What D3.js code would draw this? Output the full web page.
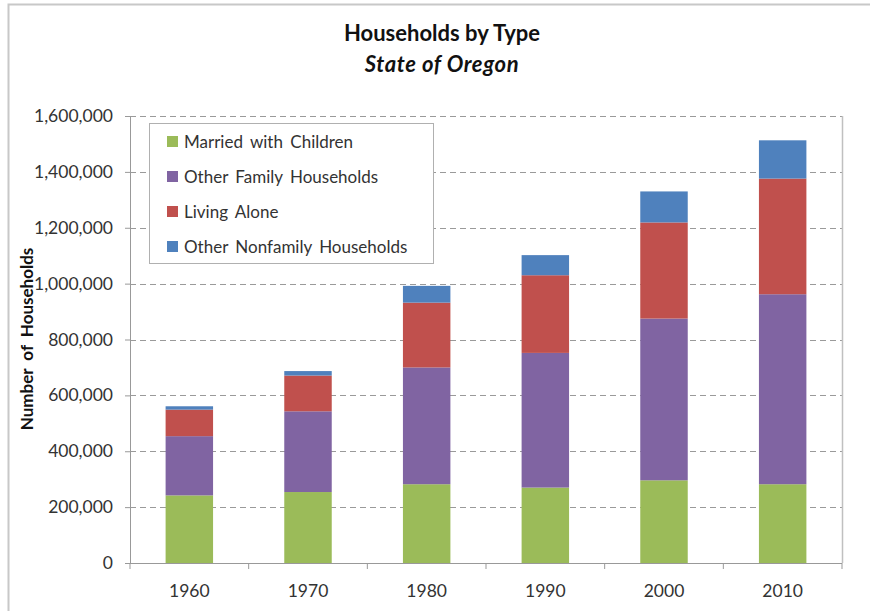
<!DOCTYPE html>
<html>
<head>
<meta charset="utf-8">
<script src="https://cdn.jsdelivr.net/npm/d3@7"></script>
<style>
  body { margin: 0; background: #fff; }
  svg { font-family: Lato, "Open Sans", sans-serif; }
</style>
</head>
<body>
<svg id="chart" width="870" height="611"></svg>
<script>
// data (households)
var years = ["1960", "1970", "1980", "1990", "2000", "2010"];
var seriesNames = ["Married with Children", "Other Family Households", "Living Alone", "Other Nonfamily Households"];
var seriesColors = ["#9bbb59", "#8064a2", "#c0504d", "#4f81bd"];
var marriedWithChildren = [242000, 254000, 282000, 270000, 296000, 282000];
var otherFamily = [212000, 289000, 418000, 482000, 579000, 680000];
var livingAlone = [95000, 128000, 232000, 278000, 344000, 414000];
var otherNonfamily = [12000, 16000, 60000, 72000, 111000, 137000];
var yTicks = [0, 200000, 400000, 600000, 800000, 1000000, 1200000, 1400000, 1600000];

var svg = d3.select("#chart");
var margin = ({top: 116, right: 28, bottom: 48, left: 130});
var width = 870, height = 611;

// outer chart frame (cropped on right and bottom)
svg.append("rect")
    .attr("x", 8.5).attr("y", 4.5)
    .attr("width", 900).attr("height", 700)
    .attr("fill", "none").attr("stroke", "#c8c8c8").attr("stroke-width", 2);

var table = years.map((y, i) => ({
    year: y,
    s0: marriedWithChildren[i],
    s1: otherFamily[i],
    s2: livingAlone[i],
    s3: otherNonfamily[i]
}));
var stack = d3.stack().keys(["s0", "s1", "s2", "s3"])(table);

var x = d3.scaleBand()
    .domain(years)
    .range([margin.left, width - margin.right])
    .paddingInner(0.6)
    .paddingOuter(0.3);

var y = d3.scaleLinear()
    .domain([0, 1600000])
    .range([height - margin.bottom, margin.top]);

// gridlines
svg.append("g")
    .selectAll("line")
    .data(yTicks.slice(1))
    .join("line")
    .attr("x1", margin.left).attr("x2", width - margin.right)
    .attr("y1", d => Math.round(y(d)) + 0.5).attr("y2", d => Math.round(y(d)) + 0.5)
    .attr("stroke", "#9a9a9a")
    .attr("stroke-dasharray", "6,4");

// right border of plot area
svg.append("line")
    .attr("x1", width - margin.right + 0.5).attr("x2", width - margin.right + 0.5)
    .attr("y1", margin.top).attr("y2", height - margin.bottom)
    .attr("stroke", "#c0c0c0").attr("stroke-width", 1.5);

// bars
svg.append("g")
    .selectAll("g")
    .data(stack)
    .join("g")
    .attr("fill", (d, i) => seriesColors[i])
    .selectAll("rect")
    .data(d => d)
    .join("rect")
    .attr("x", d => x(d.data.year))
    .attr("y", d => y(d[1]))
    .attr("width", x.bandwidth())
    .attr("height", d => y(d[0]) - y(d[1]));

// y axis
var yAxis = g => g
    .attr("transform", `translate(${margin.left},0)`)
    .call(d3.axisLeft(y).tickValues(yTicks).tickFormat(d3.format(",")).tickSize(5).tickPadding(12))
    .call(g => g.selectAll("line, path").attr("stroke", "#999"))
    .call(g => g.selectAll("text").attr("fill", "#333").style("font-size", "17.5px").style("font-family", "Lato, sans-serif"));
svg.append("g").call(yAxis);

// x axis with ticks between categories
var xBase = height - margin.bottom;
svg.append("line")
    .attr("x1", margin.left).attr("x2", width - margin.right)
    .attr("y1", xBase + 0.5).attr("y2", xBase + 0.5)
    .attr("stroke", "#999");
svg.append("g")
    .selectAll("line")
    .data(d3.range(years.length + 1))
    .join("line")
    .attr("x1", i => margin.left + i * x.step())
    .attr("x2", i => margin.left + i * x.step())
    .attr("y1", xBase).attr("y2", xBase + 6)
    .attr("stroke", "#999");
svg.append("g")
    .selectAll("text")
    .data(years)
    .join("text")
    .attr("x", d => x(d) + x.bandwidth() / 2)
    .attr("y", xBase + 34)
    .attr("text-anchor", "middle")
    .attr("fill", "#333")
    .style("font-size", "17.5px")
    .text(d => d);

// y axis title
svg.append("text")
    .attr("transform", "translate(33,339) rotate(-90)")
    .attr("text-anchor", "middle")
    .attr("fill", "#111")
    .style("font-size", "17px")
    .style("font-weight", "bold")
    .style("word-spacing", "4px")
    .text("Number of Households");

// titles
svg.append("text")
    .attr("x", 442).attr("y", 41)
    .attr("text-anchor", "middle")
    .attr("fill", "#111")
    .style("font-size", "22px")
    .style("font-weight", "bold")
    .text("Households by Type");
svg.append("text")
    .attr("x", 442).attr("y", 72)
    .attr("text-anchor", "middle")
    .attr("fill", "#111")
    .style("font-size", "22px")
    .style("font-weight", "bold")
    .style("font-style", "italic")
    .style("letter-spacing", "0.6px")
    .text("State of Oregon");

// legend
var legend = svg.append("g").attr("transform", "translate(149,123)");
legend.append("rect")
    .attr("x", 0.5).attr("y", 0.5)
    .attr("width", 284).attr("height", 140)
    .attr("fill", "#fff").attr("stroke", "#b0b0b0");
var item = legend.selectAll("g.item")
    .data(seriesNames)
    .join("g")
    .attr("class", "item")
    .attr("transform", (d, i) => `translate(0,${19 + i * 35})`);
item.append("rect")
    .attr("x", 18).attr("y", -6)
    .attr("width", 11).attr("height", 11)
    .attr("fill", (d, i) => seriesColors[i]);
item.append("text")
    .attr("x", 35).attr("y", 0)
    .attr("dy", "0.35em")
    .attr("fill", "#333")
    .style("font-size", "17px")
    .style("word-spacing", "3px")
    .text(d => d);
</script>
</body>
</html>
